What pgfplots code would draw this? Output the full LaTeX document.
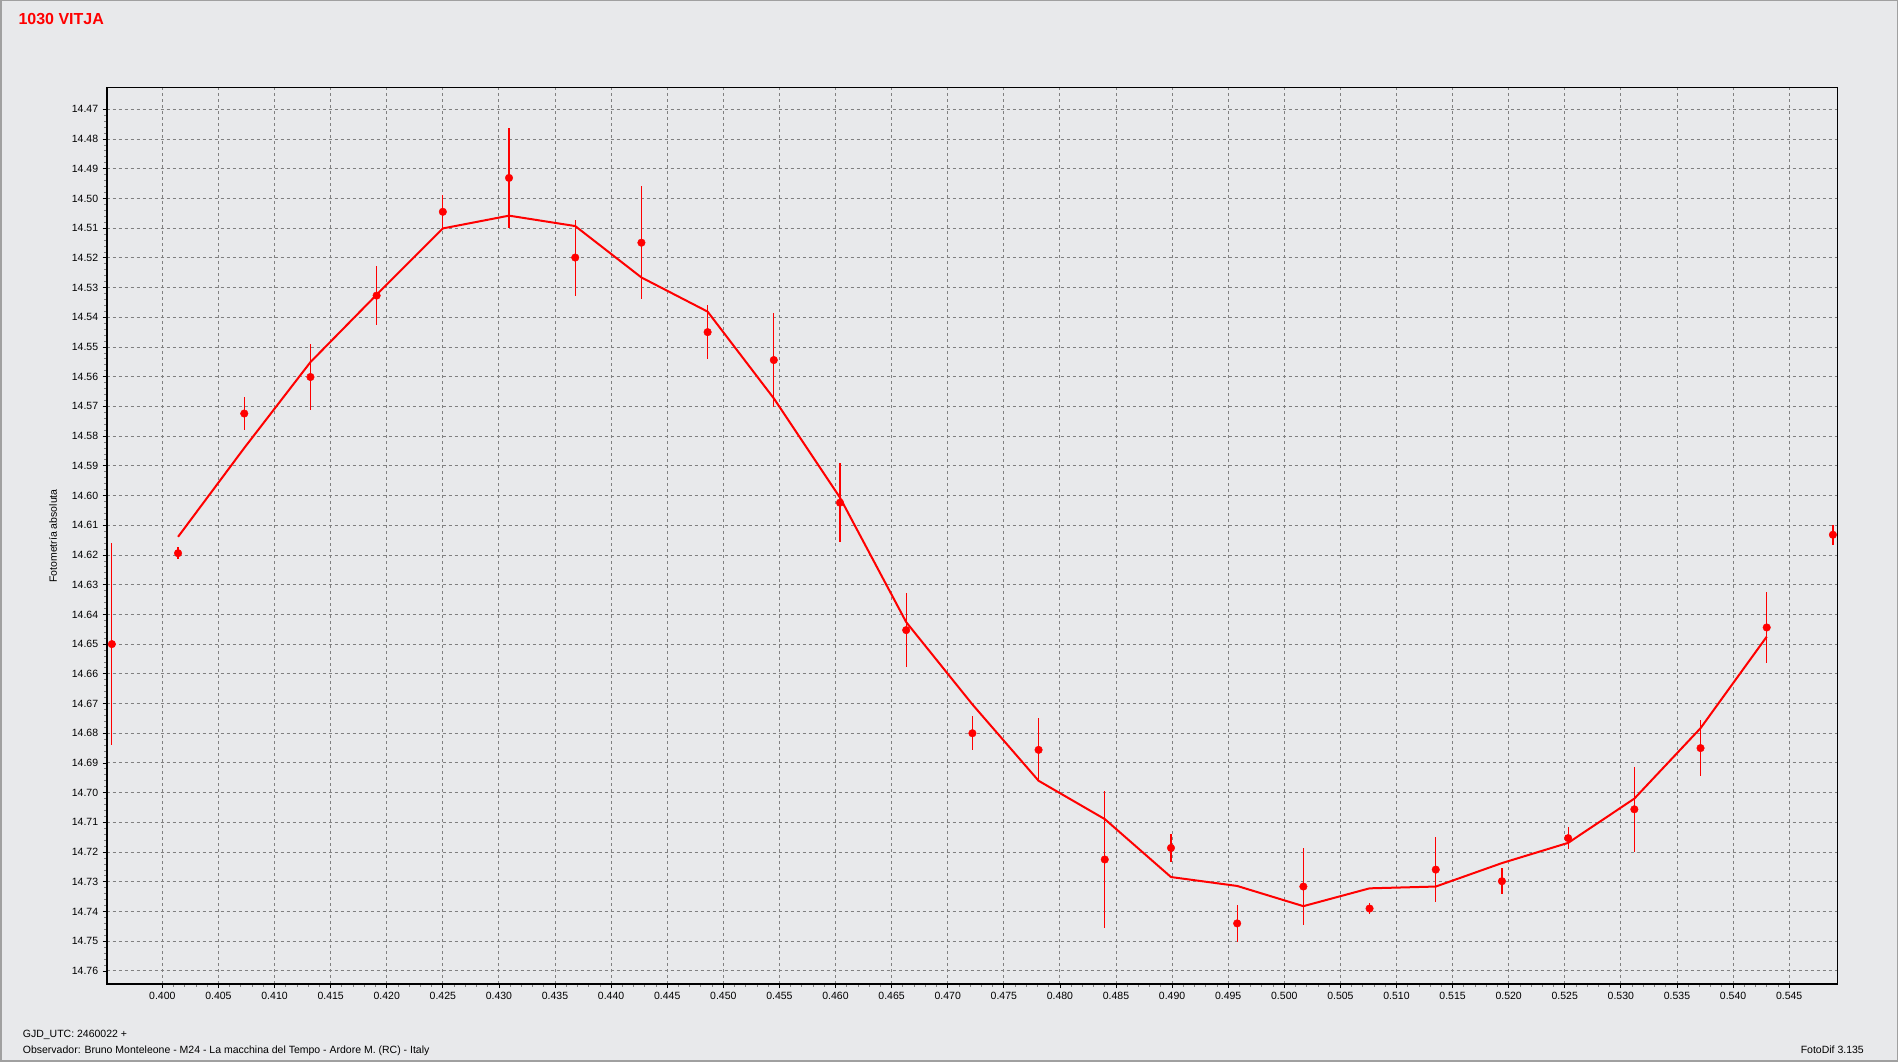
\documentclass[border=0pt]{standalone}
\usepackage{pgfplots}
\pgfplotsset{compat=1.18}
\usepackage{pgfplotstable}
\usepackage{fontspec}
\setmainfont{Liberation Sans}
\definecolor{bg}{RGB}{232,233,235}
\definecolor{gridc}{RGB}{128,128,128}
\definecolor{frameg}{RGB}{160,160,160}

\pgfplotstableread{
x y e
0.3955 14.6500 0.0340
0.4014 14.6194 0.0020
0.4073 14.5724 0.0054
0.4132 14.5601 0.0110
0.4191 14.5327 0.0100
0.4250 14.5045 0.0056
0.4309 14.4931 0.0169
0.4368 14.5199 0.0128
0.4427 14.5149 0.0190
0.4486 14.5450 0.0090
0.4545 14.5544 0.0157
0.4604 14.6024 0.0134
0.4663 14.6453 0.0125
0.4722 14.6800 0.0058
0.4781 14.6856 0.0106
0.4840 14.7225 0.0230
0.4899 14.7186 0.0048
0.4958 14.7440 0.0063
0.5017 14.7316 0.0130
0.5076 14.7390 0.0020
0.5135 14.7259 0.0110
0.5194 14.7298 0.0043
0.5253 14.7153 0.0036
0.5312 14.7056 0.0143
0.5371 14.6850 0.0095
0.5430 14.6444 0.0120
0.5489 14.6132 0.0033
}\obsdata

\pgfplotstableread{
x y
0.4014 14.6139
0.4073 14.5840
0.4132 14.5551
0.4191 14.5324
0.4250 14.5101
0.4309 14.5058
0.4368 14.5093
0.4427 14.5266
0.4486 14.5381
0.4545 14.5673
0.4604 14.6007
0.4663 14.6426
0.4722 14.6703
0.4781 14.6960
0.4840 14.7089
0.4899 14.7284
0.4958 14.7314
0.5017 14.7382
0.5076 14.7322
0.5135 14.7316
0.5194 14.7237
0.5253 14.7169
0.5312 14.7020
0.5371 14.6783
0.5430 14.6475
}\avgdata

\begin{document}
\begin{tikzpicture}[x=1pt,y=1pt]
\fill[bg] (0,0) rectangle (1898,1062);
\draw[frameg, line width=1.5pt] (0.75,0.75) rectangle (1897.25,1061.25);
\node[anchor=base west, inner sep=0pt, text=red] at (18.3,1037) {\fontsize{16}{19}\selectfont\bfseries 1030 VITJA};
\node[anchor=base west, inner sep=0pt] at (22.7,24) {\fontsize{10.5}{12}\selectfont GJD\_UTC: 2460022 +};
\node[anchor=base west, inner sep=0pt] at (22.7,8) {\fontsize{10.5}{12}\selectfont Observador: Bruno Monteleone - M24 - La macchina del Tempo - Ardore M. (RC) - Italy};
\node[anchor=base east, inner sep=0pt] at (1864,8) {\fontsize{10.5}{12}\selectfont FotoDif 3.135};
\node[rotate=90, inner sep=0pt] at (53,526) {\fontsize{10.5}{12}\selectfont Fotometría absoluta};
\begin{axis}[
  at={(106.7pt,78pt)}, anchor=south west,
  scale only axis, width=1730.6pt, height=896.7pt,
  xmin=0.39504, xmax=0.54929,
  ymin=14.4626, ymax=14.7644,
  y dir=reverse,
  axis background/.style={fill=bg},
  axis line style={line width=1pt, black},
  xtick={0.400,0.405,0.410,0.415,0.420,0.425,0.430,0.435,0.440,0.445,0.450,0.455,0.460,0.465,0.470,0.475,0.480,0.485,0.490,0.495,0.500,0.505,0.510,0.515,0.520,0.525,0.530,0.535,0.540,0.545},
  ytick={14.47,14.48,14.49,14.50,14.51,14.52,14.53,14.54,14.55,14.56,14.57,14.58,14.59,14.60,14.61,14.62,14.63,14.64,14.65,14.66,14.67,14.68,14.69,14.70,14.71,14.72,14.73,14.74,14.75,14.76},
  minor x tick num=4, minor y tick num=4,
  xtick pos=lower, ytick pos=left,
  tick align=outside,
  major tick length=4pt, minor tick length=2.5pt,
  tick style={black, line width=0.8pt},
  minor tick style={gridc, line width=0.8pt},
  grid=major,
  major grid style={gridc, line width=0.9pt, dash pattern=on 3pt off 3pt},
  x tick label style={/pgf/number format/fixed, /pgf/number format/fixed zerofill, /pgf/number format/precision=3, /pgf/number format/assume math mode=true, font=\fontsize{10.5}{12}\selectfont, yshift=-1pt},
  y tick label style={/pgf/number format/fixed, /pgf/number format/fixed zerofill, /pgf/number format/precision=2, /pgf/number format/assume math mode=true, font=\fontsize{10.5}{12}\selectfont, xshift=-1pt},
  clip=false,
]
\addplot[red, line width=2pt, no markers] table[x=x, y=y] {\avgdata};
\addplot[red, only marks, mark=*, mark size=3.8pt, mark options={fill=red, draw=red},
  error bars/.cd, y dir=both, y explicit, error mark=none,
  error bar style={red, line width=1.2pt}]
  table[x=x, y=y, y error=e] {\obsdata};
\draw[black, line width=2.4pt] (axis description cs:0,1) -- (axis description cs:0,0) -- (axis description cs:1,0);
\end{axis}
\end{tikzpicture}
\end{document}
